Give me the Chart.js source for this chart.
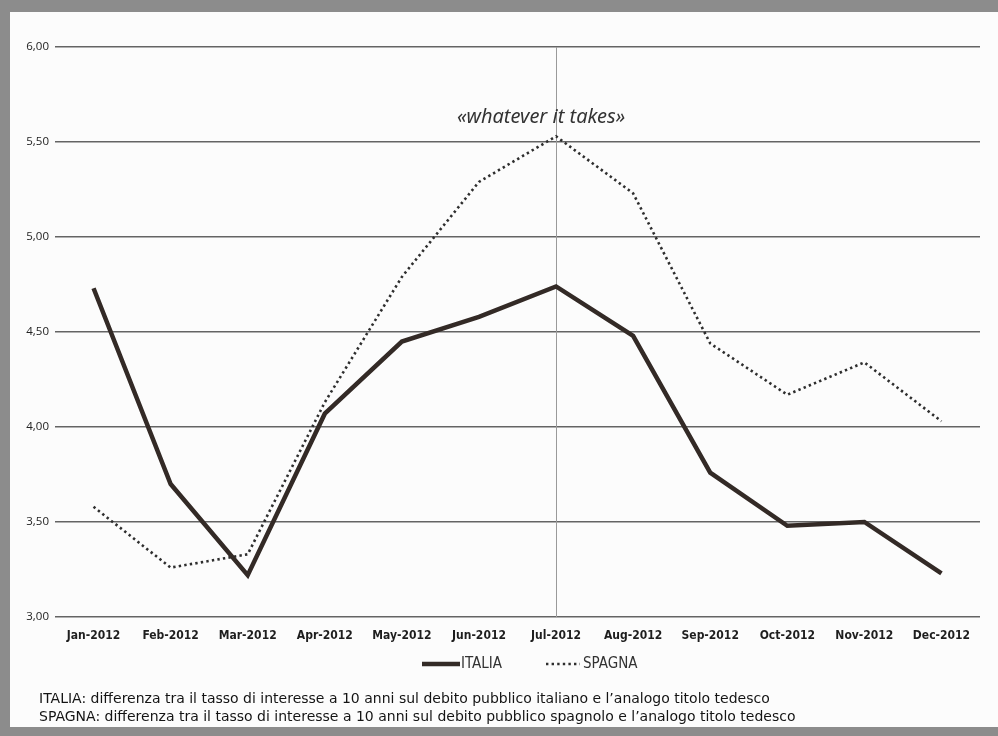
<!DOCTYPE html>
<html>
<head>
<meta charset="utf-8">
<script src="https://cdn.jsdelivr.net/npm/chart.js@4.4.1/dist/chart.umd.min.js"></script>
<style>
  html, body { margin: 0; padding: 0; background: #8c8c8c; overflow: hidden; }
  #wrap { width: 998px; height: 736px; position: relative; }
  canvas { display: block; }
</style>
</head>
<body>
<div id="wrap"><canvas id="spread" width="998" height="736"></canvas></div>
<script>
// Monthly spreads vs the German 10-year Bund, 2012 (percentage points)
const months = ['Jan-2012', 'Feb-2012', 'Mar-2012', 'Apr-2012', 'May-2012', 'Jun-2012',
                'Jul-2012', 'Aug-2012', 'Sep-2012', 'Oct-2012', 'Nov-2012', 'Dec-2012'];
const italia = [4.73, 3.70, 3.22, 4.07, 4.45, 4.58, 4.74, 4.48, 3.76, 3.48, 3.50, 3.23];
const spagna = [3.58, 3.26, 3.33, 4.13, 4.79, 5.29, 5.53, 5.23, 4.44, 4.17, 4.34, 4.03];
const yTicks = [3.0, 3.5, 4.0, 4.5, 5.0, 5.5, 6.0];
const seriesNames = ['ITALIA', 'SPAGNA'];
const speechMonth = 'Jul-2012';
const speechLabel = '\u00ABwhatever it takes\u00BB';
const speechLevel = 5.63;
const notes = [
  'ITALIA: differenza tra il tasso di interesse a 10 anni sul debito pubblico italiano e l\u2019analogo titolo tedesco',
  'SPAGNA: differenza tra il tasso di interesse a 10 anni sul debito pubblico spagnolo e l\u2019analogo titolo tedesco'
];

const NARROW = '"Liberation Sans Narrow", "DejaVu Sans Condensed", "Roboto Condensed", sans-serif';
const INK = '#1e1e1e';
const fmt = v => v.toFixed(2).replace('.', ',');

// Page background with the grey frame round it
const pageFrame = {
  id: 'pageFrame',
  beforeDraw(chart) {
    const { ctx, width, height } = chart;
    ctx.save();
    ctx.fillStyle = '#8c8c8c';
    ctx.fillRect(0, 0, width, height);
    ctx.fillStyle = '#fcfcfc';
    ctx.fillRect(10, 12, width - 10, 715);
    ctx.restore();
  }
};

// Vertical marker at July 2012 plus its caption
const speechMarker = {
  id: 'speechMarker',
  beforeDatasetsDraw(chart) {
    const { ctx, chartArea, scales } = chart;
    const x = Math.round(scales.x.getPixelForValue(months.indexOf(speechMonth))) + 0.5;
    ctx.save();
    ctx.strokeStyle = '#9a9a9a';
    ctx.lineWidth = 1;
    ctx.beginPath();
    ctx.moveTo(x, chartArea.top);
    ctx.lineTo(x, chartArea.bottom);
    ctx.stroke();
    ctx.restore();
  },
  afterDatasetsDraw(chart) {
    const { ctx, scales } = chart;
    const x = scales.x.getPixelForValue(months.indexOf(speechMonth));
    const y = scales.y.getPixelForValue(speechLevel);
    ctx.save();
    ctx.font = 'italic 20px "Noto Sans", "Open Sans", sans-serif';
    ctx.fillStyle = '#333';
    ctx.textAlign = 'center';
    ctx.textBaseline = 'middle';
    ctx.fillText(speechLabel, x - 15, y);
    ctx.restore();
  }
};

// Legend row and the explanatory notes beneath the chart
const bottomText = {
  id: 'bottomText',
  afterDraw(chart) {
    const { ctx } = chart;
    const ds = chart.data.datasets;
    const rowY = 664;
    const items = [
      { x0: 422, x1: 460, tx: 461 },
      { x0: 546, x1: 580, tx: 583 }
    ];
    ctx.save();
    items.forEach((it, i) => {
      ctx.strokeStyle = ds[i].borderColor;
      ctx.lineWidth = ds[i].borderWidth;
      ctx.setLineDash(ds[i].borderDash || []);
      ctx.lineCap = 'butt';
      ctx.beginPath();
      ctx.moveTo(it.x0, rowY);
      ctx.lineTo(it.x1, rowY);
      ctx.stroke();
      ctx.setLineDash([]);
      ctx.font = '15px ' + NARROW;
      ctx.fillStyle = '#333';
      ctx.textAlign = 'left';
      ctx.textBaseline = 'middle';
      ctx.fillText(ds[i].label, it.tx, rowY);
    });
    ctx.font = '14px "DejaVu Sans", "Open Sans", sans-serif';
    ctx.fillStyle = '#141414';
    ctx.textBaseline = 'middle';
    notes.forEach((t, i) => ctx.fillText(t, 39, 699 + i * 18));
    ctx.restore();
  }
};

new Chart(document.getElementById('spread'), {
  type: 'line',
  data: {
    labels: months,
    datasets: [
      {
        label: seriesNames[0],
        data: italia,
        borderColor: '#332a26',
        borderWidth: 4.5,
        pointRadius: 0,
        tension: 0,
        borderJoinStyle: 'miter'
      },
      {
        label: seriesNames[1],
        data: spagna,
        borderColor: '#2e2e2e',
        borderWidth: 2.6,
        borderDash: [2.4, 3.2],
        pointRadius: 0,
        tension: 0
      }
    ]
  },
  options: {
    responsive: false,
    animation: false,
    devicePixelRatio: 1,
    layout: { padding: { left: 10, right: 18, top: 47, bottom: 91 } },
    plugins: {
      legend: { display: false },
      tooltip: { enabled: false }
    },
    scales: {
      x: {
        type: 'category',
        offset: true,
        grid: { display: false },
        border: { display: false },
        ticks: {
          maxRotation: 0,
          autoSkip: false,
          padding: 4,
          color: INK,
          font: { family: NARROW, size: 12, weight: 'bold' }
        },
        afterFit(scale) { scale.height = 28; }
      },
      y: {
        min: yTicks[0],
        max: yTicks[yTicks.length - 1],
        afterBuildTicks(scale) { scale.ticks = yTicks.map(v => ({ value: v })); },
        grid: { color: '#646464', lineWidth: 1.6, drawTicks: false },
        border: { display: false },
        ticks: {
          padding: 6,
          color: '#222',
          font: { family: '"Open Sans", "Noto Sans", sans-serif', size: 11.5 },
          callback: v => fmt(v)
        },
        afterFit(scale) { scale.width = 45; }
      }
    }
  },
  plugins: [pageFrame, speechMarker, bottomText]
});
</script>
</body>
</html>
